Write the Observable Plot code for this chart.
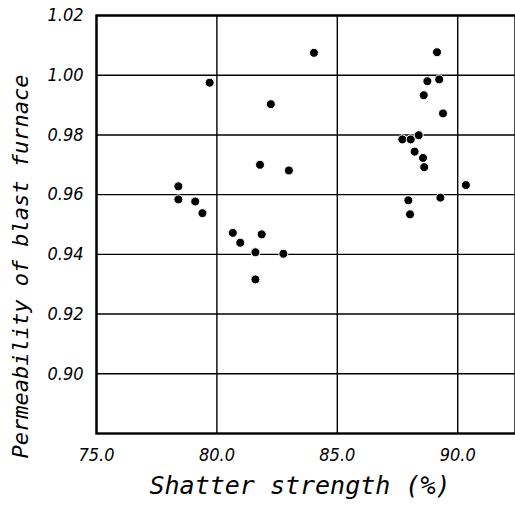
<!DOCTYPE html>
<html>
<head>
<meta charset="utf-8">
<script src="https://cdn.jsdelivr.net/npm/d3@7"></script>
<script src="https://cdn.jsdelivr.net/npm/@observablehq/plot@0.6"></script>
<style>
  html, body { margin: 0; padding: 0; background: #fff; }
  #chart { width: 515px; height: 514px; overflow: hidden; }
  #chart g[aria-label="x-axis tick label"], #chart g[aria-label="y-axis tick label"] {
    font-style: italic;
    font-family: 'DejaVu Sans Condensed', 'DejaVu Sans', sans-serif;
    font-stretch: condensed;
  }
</style>
</head>
<body>
<div id="chart"></div>
<script>
// Shatter strength (%)
const shatter = [78.4, 78.4, 79.1, 79.4, 79.7, 80.66, 80.97, 81.6, 81.6, 81.86, 81.79, 82.24, 82.76, 82.99, 84.03,
  89.14, 88.74, 89.23, 88.59, 89.39, 87.70, 88.05, 88.38, 88.21, 88.56, 88.61, 90.34, 87.95, 89.28, 88.02];
// Permeability of blast furnace
const permeability = [0.9628, 0.9584, 0.9577, 0.9538, 0.9975, 0.9472, 0.9439, 0.9407, 0.9316, 0.9467, 0.9700, 0.9903, 0.9402, 0.9681, 1.0075,
  1.0077, 0.9980, 0.9986, 0.9933, 0.9872, 0.9785, 0.9785, 0.9799, 0.9744, 0.9723, 0.9692, 0.9632, 0.9581, 0.9590, 0.9534];
const xTicks = [75, 80, 85, 90];
const yTicks = [0.90, 0.92, 0.94, 0.96, 0.98, 1.00, 1.02];
const xLabel = "Shatter strength (%)";
const yLabel = "Permeability of blast furnace";

const points = shatter.map((x, i) => ({x, y: permeability[i]}));
const labelFont = "'DejaVu Sans Mono', monospace";

const chart = Plot.plot({
  width: 515,
  height: 514,
  marginLeft: 96,
  marginRight: 0,
  marginTop: 15,
  marginBottom: 81,
  style: {background: "#fff", color: "#000"},
  x: {domain: [75, 92.4]},
  y: {domain: [0.88, 1.02]},
  marks: [
    Plot.gridX(xTicks, {stroke: "#000", strokeOpacity: 1, strokeWidth: 1.4}),
    Plot.gridY(yTicks, {stroke: "#000", strokeOpacity: 1, strokeWidth: 1.4}),
    Plot.frame({stroke: "#000", strokeWidth: 2.4}),
    Plot.axisX(xTicks, {tickSize: 0, tickPadding: 15, fontSize: 18, tickFormat: d => d.toFixed(1), label: null}),
    Plot.axisY(yTicks, {tickSize: 0, tickPadding: 13, fontSize: 18, tickFormat: d => d.toFixed(2), label: null}),
    Plot.dot(points, {x: "x", y: "y", r: 4.5, fill: "#000", stroke: "#fff", strokeWidth: 1}),
    Plot.text([xLabel], {frameAnchor: "bottom", dy: 60, dx: -6, fontSize: 25, text: d => d, fontStyle: "italic", fontFamily: labelFont, fill: "#000"}),
    Plot.text([yLabel], {frameAnchor: "left", textAnchor: "middle", dx: -76, dy: 42, rotate: -90, fontSize: 22, text: d => d, fontStyle: "italic", fontFamily: labelFont, fill: "#000"})
  ]
});
document.getElementById("chart").appendChild(chart);
</script>
</body>
</html>
